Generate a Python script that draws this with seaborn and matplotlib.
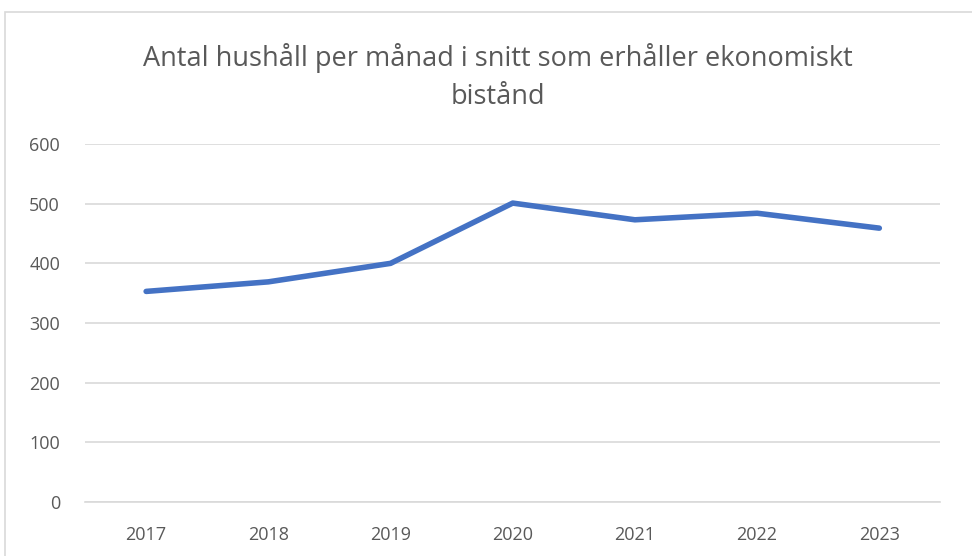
import matplotlib
matplotlib.use("Agg")
import matplotlib.pyplot as plt
import seaborn as sns
import pandas as pd
from matplotlib.patches import Rectangle

years = ["2017", "2018", "2019", "2020", "2021", "2022", "2023"]
households = [353, 369, 400, 501, 473, 484, 459]

df = pd.DataFrame({"År": years, "Hushåll": households})

sns.set_theme(style="white")
plt.rcParams["font.family"] = ["Open Sans", "DejaVu Sans"]

fig = plt.figure(figsize=(9.72, 5.56), dpi=100)
ax = fig.add_axes([0.0875, 0.097, 0.88, 0.644])

sns.lineplot(data=df, x="År", y="Hushåll", ax=ax, color="#4472C4",
             linewidth=4, sort=False, solid_capstyle="round")

ax.set_ylim(0, 600)
ax.set_xlim(-0.5, 6.5)
ax.set_yticks(range(0, 601, 100))
ax.yaxis.grid(True, color="#D9D9D9", linewidth=1.2)
ax.set_axisbelow(True)
for s in ["top", "right", "left"]:
    ax.spines[s].set_visible(False)
ax.spines["bottom"].set_color("#D9D9D9")
ax.spines["bottom"].set_linewidth(1.2)
ax.tick_params(axis="both", length=0, labelsize=13, labelcolor="#595959")
ax.tick_params(axis="x", pad=17)
ax.tick_params(axis="y", pad=18)
ax.set_xlabel("")
ax.set_ylabel("")

fig.text(0.512, 0.895, "Antal hushåll per månad i snitt som erhåller ekonomiskt",
         ha="center", va="center", fontsize=19.5, color="#595959")
fig.text(0.512, 0.826, "bistånd", ha="center", va="center", fontsize=19.5, color="#595959")

fig.patches.append(Rectangle((5 / 972, -0.01), 1.0, 1 - 12 / 556 + 0.01,
                             transform=fig.transFigure, fill=False,
                             edgecolor="#D9D9D9", linewidth=1.2))

fig.savefig("out.png", dpi=100)
